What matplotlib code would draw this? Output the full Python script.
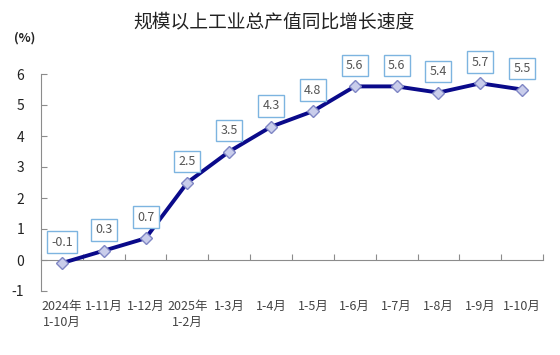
import matplotlib
matplotlib.use("Agg")
import matplotlib.pyplot as plt
from matplotlib.transforms import blended_transform_factory

plt.rcParams['font.family'] = ['Noto Sans CJK SC', 'DejaVu Sans']

categories = ["2024年\n1-10月", "1-11月", "1-12月", "2025年\n1-2月", "1-3月", "1-4月",
              "1-5月", "1-6月", "1-7月", "1-8月", "1-9月", "1-10月"]
values = [-0.1, 0.3, 0.7, 2.5, 3.5, 4.3, 4.8, 5.6, 5.6, 5.4, 5.7, 5.5]
yticks = [-1, 0, 1, 2, 3, 4, 5, 6]
title = "规模以上工业总产值同比增长速度"
unit = "(%)"

fig = plt.figure(figsize=(5.6, 3.55), dpi=100)
ax = fig.add_axes([41/560, 64/355, 502/560, 217/355])

x = list(range(len(values)))
ax.plot(x, values, color='#0A0A8A', lw=2.8, zorder=3,
        marker='D', markersize=6.5, markerfacecolor='#C9CDEB',
        markeredgecolor='#7F86C4', markeredgewidth=1)

for xi, v in zip(x, values):
    ax.annotate(f"{v:.1f}", (xi, v), xytext=(0, 21), textcoords='offset pixels',
                ha='center', va='center', fontsize=9, color='#555555',
                bbox=dict(boxstyle='square,pad=0.35', fc='white', ec='#7DB4E0', lw=1),
                zorder=4)

ax.set_xlim(-0.5, len(values) - 0.5)
ax.set_ylim(-1, 6)

axis_color = '#8C8C8C'
for s in ['top', 'right']:
    ax.spines[s].set_visible(False)
ax.spines['left'].set_color(axis_color)
ax.spines['bottom'].set_color(axis_color)
ax.spines['bottom'].set_position(('data', 0))

ax.set_yticks(yticks)
ax.set_yticklabels([str(t) for t in yticks], fontsize=10, color='#222222')
ax.tick_params(axis='y', direction='in', length=4, color=axis_color, pad=12)

ax.set_xticks([i - 0.5 for i in range(len(values) + 1)])
ax.set_xticklabels([])
ax.tick_params(axis='x', direction='in', length=4, color=axis_color)

trans = blended_transform_factory(ax.transData, fig.transFigure)
for xi, c in zip(x, categories):
    ax.text(xi, 1 - 300/355, c, transform=trans, ha='center', va='top',
            fontsize=9, color='#444444', linespacing=1.3)

fig.text(274/560, 1 - 22/355, title, ha='center', va='center', fontsize=13.5,
         color='#222222', fontweight='medium')
fig.text(25/560, 1 - 38/355, unit, ha='center', va='center', fontsize=9,
         color='#222222', fontweight='bold')

fig.savefig('out.png', dpi=100)
